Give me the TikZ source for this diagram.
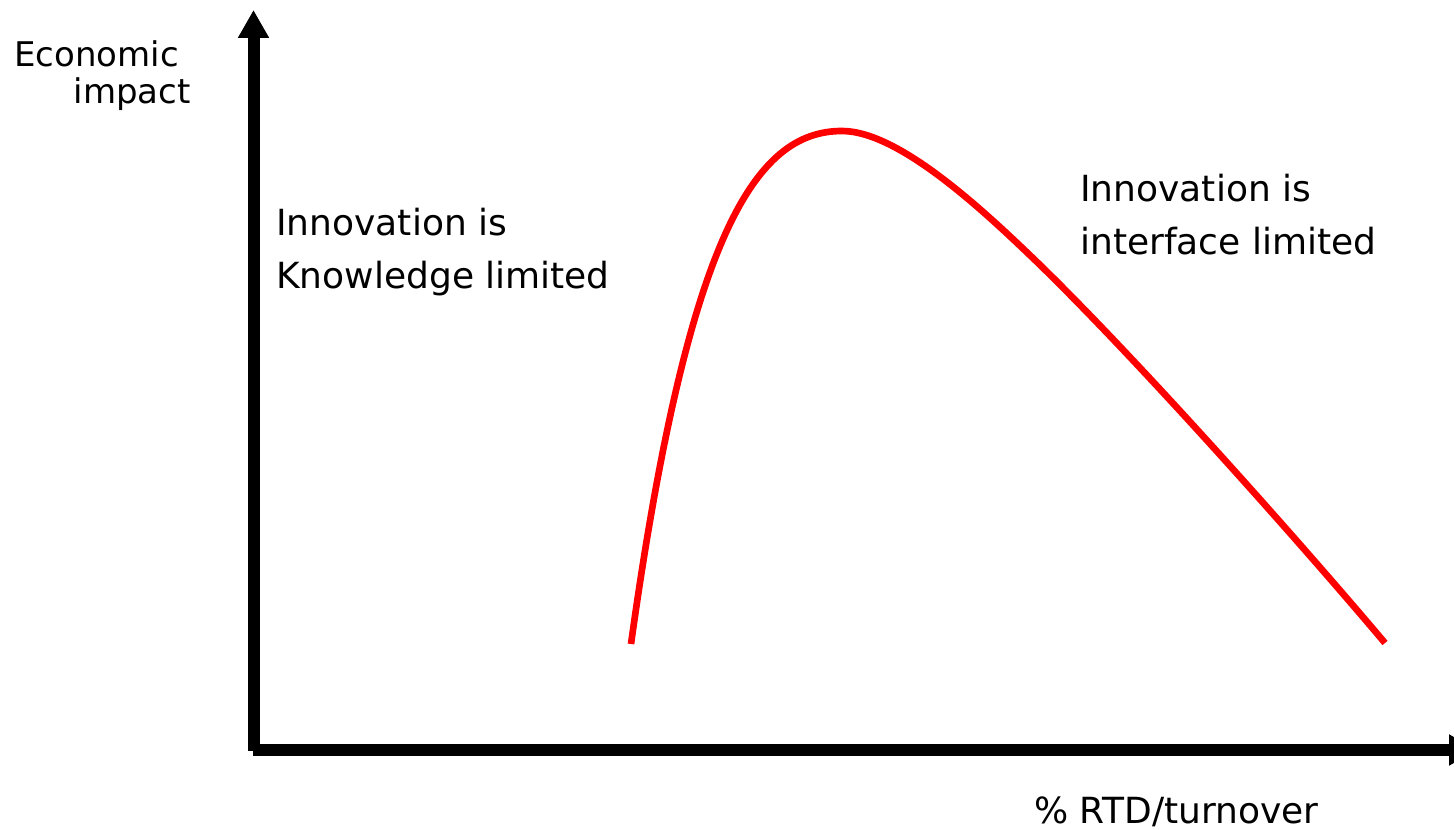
\documentclass[tikz,border=0pt]{standalone}
\usepackage{fontspec}
\setmainfont{DejaVu Sans}
\usetikzlibrary{arrows.meta}

\begin{document}
\begin{tikzpicture}[x=0.75pt,y=0.75pt,yscale=-1,xscale=1,
  axis/.style={line width=9pt,-{Triangle[length=21pt,width=22pt]}},
  lbl/.style={inner sep=0pt,font=\fontsize{27}{40}\selectfont},
  ylbl/.style={inner sep=0pt,font=\fontsize{25.5}{36}\selectfont},
  curve/.style={red,line width=5pt}]
\useasboundingbox (0,0) rectangle (1454,830);
\coordinate (origin) at (253.5,751);
\coordinate (ytip) at (253.5,10);
\coordinate (xstart) at (253,750);
\coordinate (xtip) at (1477,750);
\draw[axis] (origin) -- (ytip);
\draw[axis] (xstart) -- (xtip);
% impact curve
\coordinate (low) at (631,644);
\coordinate (peak) at (842,131);
\coordinate (bend) at (1037,262);
\coordinate (high) at (1385,643);
\draw[curve] (low) .. controls (688,235) and (755,131) .. (peak)
  .. controls (900,131) and (987,214) .. (bend)
  .. controls (1140,362) and (1305,548) .. (high);
\node (econ) [ylbl,anchor=base east] at (179,67) {Economic};
\node (impact) [ylbl,anchor=base east] at (191,104) {impact};
\node (knowledge) [lbl,anchor=base west,align=left] at (276,289) {Innovation is\\Knowledge limited};
\node (interface) [lbl,anchor=base west,align=left] at (1080,255) {Innovation is\\interface limited};
\node (rtd) [lbl,anchor=base west] at (1034,823) {\% RTD/turnover};
\end{tikzpicture}
\end{document}
